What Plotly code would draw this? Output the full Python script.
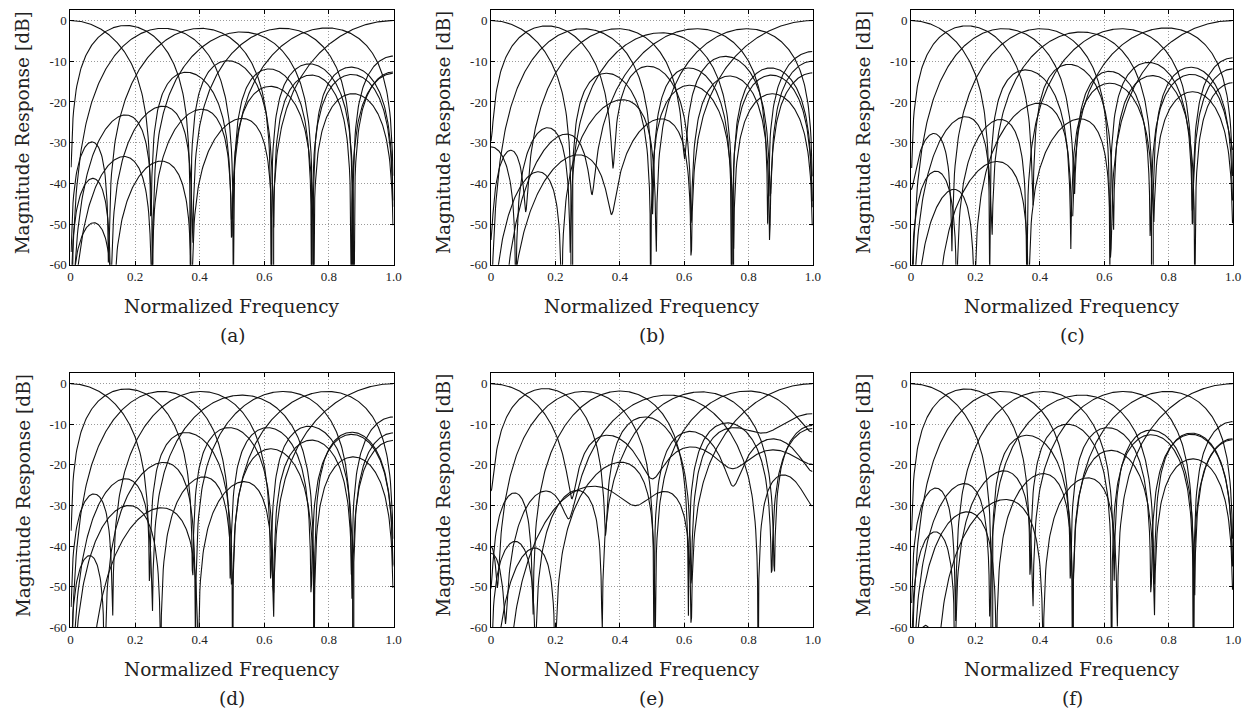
import numpy as np
import plotly.graph_objects as go

# ---------------- data ----------------
# Each curve is the magnitude response of one length-8 basis filter.
# A filter is described by the notches (zeros):
# [normalized frequency of notch, radius] ; 0 -> real zero at z=r, 1 -> real zero at z=-r,
# otherwise a conjugate pair; and by the level of its main-lobe peak (dB).
freq = np.arange(512) / 512.0

panel_labels = ["(a)", "(b)", "(c)", "(d)", "(e)", "(f)"]
x_tick_vals = [0, 0.2, 0.4, 0.6, 0.8, 1.0]
x_tick_text = ["0", "0.2", "0.4", "0.6", "0.8", "1.0"]
y_tick_vals = [-60, -50, -40, -30, -20, -10, 0]
y_tick_text = ["-60", "-50", "-40", "-30", "-20", "-10", "0"]

zeros_a = [
    [[0.249, 1], [0.499, 1], [0.752, 1], [1, 1]],
    [[0, 1], [0.371, 1], [0.628, 1], [0.869, 1]],
    [[0, 1], [0, 1], [0.504, 1], [0.746, 1], [1, 1]],
    [[0, 1], [0.118, 1], [0.621, 1], [0.877, 1]],
    [[0, 1], [0, 1], [0.254, 1], [0.750, 1], [1, 1]],
    [[0, 1], [0.125, 1], [0.378, 1], [0.873, 1]],
    [[0, 1], [0, 1], [0.251, 1], [0.500, 1], [1, 1]],
    [[0, 1], [0.132, 1], [0.375, 1], [0.625, 1]],
]
peaks_a = [0, -1.2, -1.9, -1.9, -2.8, -1.9, -1.8, 0]

zeros_b = [
    [[0.250, 1], [0.496, 1], [0.753, 1], [1, 1]],
    [[0, 0.987], [0.379, 0.99], [0.622, 0.998], [0.866, 1]],
    [[0, 0.985], [0, 0.99], [0.502, 0.997], [0.748, 1], [1, 1]],
    [[0, 0.99], [0.108, 0.988], [0.601, 0.988], [0.868, 0.995]],
    [[0.077, 1], [0.246, 0.997], [0.750, 1], [1, 1]],
    [[0, 0.995], [0.033, 1], [0.314, 0.98], [0.860, 1]],
    [[0, 0.93], [0, 0.97], [0.219, 1], [0.513, 1], [1, 1]],
    [[0, 0.99], [0.055, 0.99], [0.375, 0.97], [0.622, 1]],
]
peaks_b = [0, -1.3, -2.0, -2.0, -3.0, -2.0, -2.0, 0]

zeros_c = [
    [[0.244, 1], [0.496, 0.998], [0.753, 0.995], [1, 1]],
    [[0, 1], [0.378, 0.998], [0.628, 1], [0.881, 1]],
    [[0, 1], [0, 1], [0.507, 0.995], [0.743, 1], [1, 0.97]],
    [[0, 0.97], [0.127, 0.997], [0.617, 1], [0.874, 1]],
    [[0, 1], [0, 1], [0.251, 0.997], [0.750, 1], [1, 1]],
    [[0, 1], [0.142, 1], [0.359, 1], [0.874, 1]],
    [[0, 1], [0, 1], [0.197, 1], [0.500, 1], [1, 1]],
    [[0, 1], [0.079, 1], [0.365, 1], [0.620, 1]],
]
peaks_c = [0, -1.3, -2.0, -2.0, -2.8, -2.0, -1.8, 0]

zeros_d = [
    [[0.245, 1], [0.502, 1], [0.754, 1], [1, 1]],
    [[0, 1], [0.378, 1], [0.628, 1], [0.872, 1]],
    [[0, 1], [0, 1], [0.495, 1], [0.745, 1], [1, 1]],
    [[0, 1], [0.130, 1], [0.620, 1], [0.875, 1]],
    [[0, 1], [0, 1], [0.253, 1], [0.754, 1], [1, 1]],
    [[0, 1], [0.106, 1], [0.387, 1], [0.870, 1]],
    [[0, 1], [0, 1], [0.279, 1], [0.500, 1], [1, 1]],
    [[0, 1], [0.060, 1], [0.395, 1], [0.628, 1]],
]
peaks_d = [0, -1.3, -1.9, -1.9, -2.8, -1.9, -1.9, 0]

zeros_e = [
    [[0.251, 0.971], [0.500, 0.91], [0.750, 0.85], [1, 0.82]],
    [[0, 0.982], [0.356, 0.993], [0.622, 1], [0.850, 0.8]],
    [[0.020, 0.99], [0.506, 1], [0.752, 0.94], [1, 0.9]],
    [[0, 0.99], [0.130, 1], [0.613, 1], [0.872, 0.997]],
    [[0.045, 0.99], [0.243, 0.95], [0.830, 1], [1, 0.92]],
    [[0, 1], [0.138, 1], [0.345, 1], [0.880, 0.998]],
    [[0, 0.99], [0, 1], [0.200, 1], [0.510, 1], [1, 0.88]],
    [[0, 0.995], [0.050, 0.99], [0.448, 0.85], [0.622, 1]],
]
peaks_e = [0, -1.2, -1.9, -1.8, -2.8, -2.0, -1.8, 0]

zeros_f = [
    [[0.250, 1], [0.502, 1], [0.755, 1], [1, 1]],
    [[0, 1], [0.370, 1], [0.623, 1], [0.877, 1]],
    [[0, 1], [0, 1], [0.495, 1], [0.745, 1], [1, 1]],
    [[0, 1], [0.138, 1], [0.630, 1], [0.880, 1]],
    [[0, 1], [0, 1], [0.245, 1], [0.755, 1], [1, 1]],
    [[0, 1], [0.137, 1], [0.378, 1], [0.877, 1]],
    [[0, 1], [0, 1], [0.265, 1], [0.502, 1], [1, 1]],
    [[0, 1], [0.080, 1], [0.410, 1], [0.640, 1]],
]
peaks_f = [0, -1.3, -1.9, -1.9, -2.8, -1.9, -1.9, 0]

panel_zeros = [zeros_a, zeros_b, zeros_c, zeros_d, zeros_e, zeros_f]
panel_peaks = [peaks_a, peaks_b, peaks_c, peaks_d, peaks_e, peaks_f]


def magnitude_db(zero_list, peak_db):
    zinv = np.exp(-1j * np.pi * freq)
    h = np.ones_like(zinv)
    for f0, r in zero_list:
        if f0 == 0:
            roots = [r]
        elif f0 == 1:
            roots = [-r]
        else:
            roots = [r * np.exp(1j * np.pi * f0), r * np.exp(-1j * np.pi * f0)]
        for q in roots:
            h = h * (1 - q * zinv)
    mag = np.abs(h)
    with np.errstate(divide="ignore"):
        db = 20 * np.log10(mag / mag.max()) + peak_db
    db[~np.isfinite(db)] = np.nan
    return db


# ---------------- layout ----------------
W, H = 1251, 715
OFF = 8  # the page body has an 8px margin: place everything 8px up/left
col_px = [(68, 394), (492.3, 817), (916, 1241)]   # page pixels
row_px = [(10, 267.7), (377.3, 634.3)]
font_family = "DejaVu Serif, Liberation Serif, serif"
tick_family = "Liberation Serif, DejaVu Serif, serif"
text_color = "#222222"

fig = go.Figure()
layout = dict(
    width=W, height=H, margin=dict(l=0, r=0, t=0, b=0),
    paper_bgcolor="white", plot_bgcolor="white", showlegend=False,
    annotations=[],
)

for p in range(6):
    r, c = divmod(p, 3)
    x0, x1 = col_px[c]
    y0, y1 = row_px[r]
    fx0, fx1, fy0, fy1 = x0 - OFF, x1 - OFF, y0 - OFF, y1 - OFF
    idx = "" if p == 0 else str(p + 1)
    xa, ya = "xaxis" + idx, "yaxis" + idx
    common = dict(
        showline=True, linecolor="black", linewidth=1, mirror="ticks",
        ticks="inside", ticklen=4, tickwidth=1, tickcolor="black",
        showgrid=True, gridcolor="#9a9a9a", griddash="1px,2px", gridwidth=1,
        zeroline=False, tickfont=dict(family=tick_family, size=13, color=text_color),
    )
    layout[xa] = dict(common, domain=[fx0 / W, fx1 / W], range=[0, 1],
                      tickvals=x_tick_vals, ticktext=x_tick_text,
                      anchor="y" + idx, ticklabeloverflow="allow")
    layout[ya] = dict(common, domain=[1 - fy1 / H, 1 - fy0 / H], range=[-60, 2.6],
                      tickvals=y_tick_vals, ticktext=y_tick_text,
                      anchor="x" + idx)
    for zl, pk in zip(panel_zeros[p], panel_peaks[p]):
        fig.add_trace(go.Scatter(
            x=freq, y=magnitude_db(zl, pk), mode="lines",
            line=dict(color="#111111", width=1.1),
            xaxis="x" + idx, yaxis="y" + idx, hoverinfo="skip",
        ))
    xc = (fx0 + fx1) / 2 / W
    layout["annotations"].append(dict(
        text="Normalized Frequency", x=xc, y=1 - (y1 + 34.5) / H,
        xref="paper", yref="paper", showarrow=False,
        xanchor="center", yanchor="middle",
        font=dict(family=font_family, size=18.5, color=text_color)))
    layout["annotations"].append(dict(
        text=panel_labels[p], x=xc, y=1 - (y1 + 64) / H,
        xref="paper", yref="paper", showarrow=False,
        xanchor="center", yanchor="middle",
        font=dict(family=font_family, size=18.5, color=text_color)))
    layout["annotations"].append(dict(
        text="Magnitude Response [dB]", x=(x0 - 56) / W, y=1 - ((y0 + y1) / 2 - 13) / H,
        xref="paper", yref="paper", showarrow=False, textangle=-90,
        xanchor="center", yanchor="middle",
        font=dict(family=font_family, size=18.5, color=text_color)))

fig.update_layout(**layout)
fig.write_html("out.html")
